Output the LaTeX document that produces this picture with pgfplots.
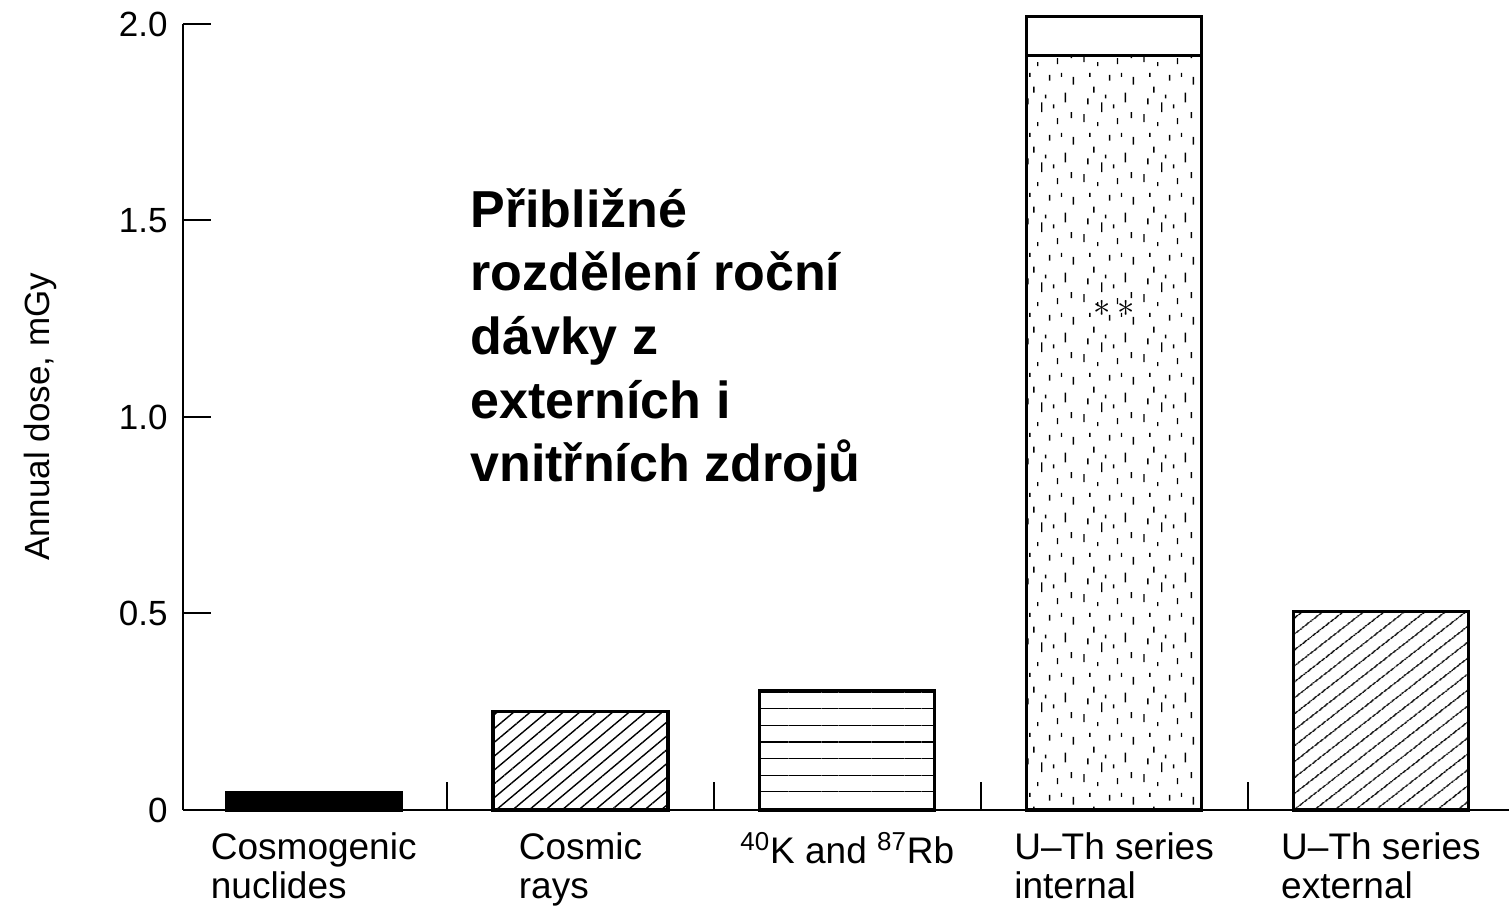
\documentclass[border=0pt]{standalone}
\usepackage{fontspec}
\setmainfont{Liberation Sans}
\usepackage{pgfplots}
\pgfplotsset{compat=1.18}
\usetikzlibrary{patterns,patterns.meta}

\pgfdeclarepatternformonly{vdashes}{\pgfqpoint{0pt}{0pt}}{\pgfqpoint{30pt}{30pt}}{\pgfqpoint{30pt}{30pt}}{%
  \pgfsetlinewidth{0.7pt}%
  \pgfpathmoveto{\pgfqpoint{2pt}{3pt}}\pgfpathlineto{\pgfqpoint{2pt}{7pt}}%
  \pgfpathmoveto{\pgfqpoint{7pt}{18pt}}\pgfpathlineto{\pgfqpoint{7pt}{21pt}}%
  \pgfpathmoveto{\pgfqpoint{11pt}{8pt}}\pgfpathlineto{\pgfqpoint{11pt}{13pt}}%
  \pgfpathmoveto{\pgfqpoint{15pt}{24pt}}\pgfpathlineto{\pgfqpoint{15pt}{27pt}}%
  \pgfpathmoveto{\pgfqpoint{19pt}{2pt}}\pgfpathlineto{\pgfqpoint{19pt}{5pt}}%
  \pgfpathmoveto{\pgfqpoint{23pt}{13pt}}\pgfpathlineto{\pgfqpoint{23pt}{18pt}}%
  \pgfpathmoveto{\pgfqpoint{27pt}{22pt}}\pgfpathlineto{\pgfqpoint{27pt}{26pt}}%
  \pgfpathmoveto{\pgfqpoint{5pt}{26pt}}\pgfpathlineto{\pgfqpoint{5pt}{28pt}}%
  \pgfpathmoveto{\pgfqpoint{13pt}{15pt}}\pgfpathlineto{\pgfqpoint{13pt}{17pt}}%
  \pgfpathmoveto{\pgfqpoint{21pt}{26pt}}\pgfpathlineto{\pgfqpoint{21pt}{28pt}}%
  \pgfpathmoveto{\pgfqpoint{26pt}{5pt}}\pgfpathlineto{\pgfqpoint{26pt}{8pt}}%
  \pgfpathmoveto{\pgfqpoint{9pt}{1pt}}\pgfpathlineto{\pgfqpoint{9pt}{3pt}}%
  \pgfpathmoveto{\pgfqpoint{17pt}{10pt}}\pgfpathlineto{\pgfqpoint{17pt}{12pt}}%
  \pgfpathmoveto{\pgfqpoint{4pt}{12pt}}\pgfpathlineto{\pgfqpoint{4pt}{15pt}}%
  \pgfusepath{stroke}%
}

\begin{document}
\begin{tikzpicture}
\begin{axis}[
  ybar, bar width=87.5pt, bar shift=0pt,
  scale only axis, width=663pt, height=393pt,
  xmin=-0.49, xmax=4.48, ymin=0, ymax=2,
  axis x line=bottom, axis y line=left,
  axis line style={-, line width=1.3pt},
  clip=false,
  ytick={0,0.5,1,1.5,2}, yticklabels={0,0.5,1.0,1.5,2.0},
  xtick={0.5,1.5,2.5,3.5}, xticklabels={,,,},
  tick align=inside, xtick align=inside, ytick align=inside,
  major tick length=14pt,
  tick style={line width=1pt, black},
  extra x ticks={0,1,2,3,4},
  extra x tick labels={{Cosmogenic\\nuclides},{Cosmic\\rays},{\textsuperscript{40}K and \textsuperscript{87}Rb},{U--Th series\\internal},{U--Th series\\external}},
  extra x tick style={tick style={draw=none}},
  xticklabel style={align=left, anchor=north, inner sep=0pt, yshift=-11pt, font=\fontsize{18.5}{19.5}\selectfont},
  yticklabel style={anchor=east, inner sep=0pt, xshift=-7.5pt, font=\fontsize{17.5}{20}\selectfont},
  every axis y label/.style={at={(rel axis cs:0,0.5)}, xshift=-71.5pt, rotate=90, anchor=center, font=\fontsize{17.5}{20}\selectfont},
  ylabel={Annual dose, mGy},
  /pgf/number format/assume math mode=true,
]
\coordinate (BL) at (rel axis cs:0,0);
\coordinate (TR) at (rel axis cs:1,1);
\addplot[fill=black, draw=black, line width=1.6pt] coordinates {(0,0.045)};
\addplot[draw=black, line width=1.6pt, pattern={Lines[angle=40,distance=5.3pt,line width=0.7pt]}] coordinates {(1,0.25)};
\addplot[draw=black, line width=1.6pt, pattern={Lines[angle=0,distance=8.3pt,line width=0.6pt]}] coordinates {(2,0.305)};
\addplot[fill=white, draw=black, line width=1.6pt] coordinates {(3,2.02)};
\addplot[draw=black, line width=1.6pt, pattern=vdashes] coordinates {(3,1.92)};
\addplot[draw=black, line width=1.6pt, pattern={Lines[angle=38,distance=6.5pt,line width=0.7pt]}] coordinates {(4,0.505)};
\node[anchor=base west, align=left, inner sep=0pt, font=\bfseries\fontsize{26}{31.8}\selectfont] at (axis cs:0.586,0.8354) {Přibližné\\rozdělení roční\\dávky z\\externích i\\vnitřních zdrojů};
\node[inner sep=0pt, font=\fontsize{18}{18}\selectfont] at (axis cs:3.0,1.277) {$\ast\hspace{3pt}\ast$};
\end{axis}
\pgfresetboundingbox
\path[use as bounding box] ([xshift=-91.5pt,yshift=-49pt]BL) rectangle ([yshift=12pt]TR);
\end{tikzpicture}
\end{document}
